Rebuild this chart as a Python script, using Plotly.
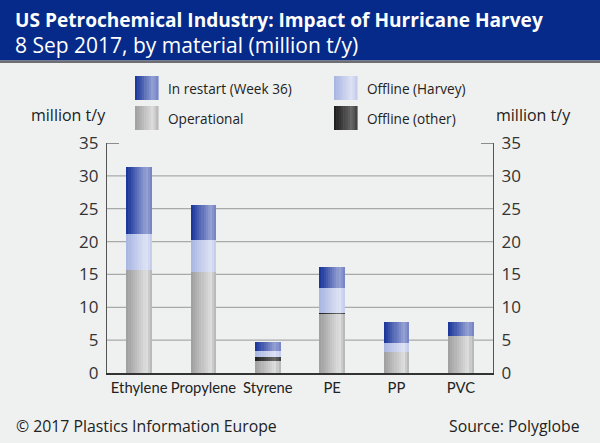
import plotly.graph_objects as go

# ---------------- data ----------------
categories = ["Ethylene", "Propylene", "Styrene", "PE", "PP", "PVC"]
operational = [15.6, 15.4, 1.8, 9.0, 3.2, 5.7]
offline_other = [0.0, 0.0, 0.6, 0.1, 0.0, 0.0]
offline_harvey = [5.5, 4.8, 0.9, 3.8, 1.4, 0.0]
in_restart = [10.2, 5.3, 1.4, 3.3, 3.2, 2.1]
y_ticks = [0, 5, 10, 15, 20, 25, 30, 35]
grid_vals = [5, 10, 15, 20, 25, 30]

FONT = "Open Sans"
XFONT = "Lato"
BG = "#eff1f0"

# gradient stops (left, highlight, right) per series
styles = {
    "Operational": ((158, 158, 158), (222, 222, 222), (178, 178, 178)),
    "Offline (other)": ((28, 28, 28), (105, 105, 105), (58, 58, 58)),
    "Offline (Harvey)": ((168, 180, 226), (222, 227, 244), (192, 200, 235)),
    "In restart (Week 36)": ((22, 50, 152), (150, 162, 212), (112, 128, 196)),
}
series = [
    ("Operational", operational),
    ("Offline (other)", offline_other),
    ("Offline (Harvey)", offline_harvey),
    ("In restart (Week 36)", in_restart),
]


def grad(stops, t, peak=0.78):
    a, b, c = stops
    if t <= peak:
        f = t / peak
        col = [a[i] + (b[i] - a[i]) * f for i in range(3)]
    else:
        f = (t - peak) / (1 - peak)
        col = [b[i] + (c[i] - b[i]) * f for i in range(3)]
    return "rgb(%d,%d,%d)" % tuple(int(round(v)) for v in col)


K = 12
BAR_W = 0.40
fig = go.Figure()

base = [0.0] * len(categories)
for name, vals in series:
    for k in range(K):
        t = (k + 0.5) / K
        last = (k == K - 1)
        fig.add_trace(go.Bar(
            x=categories, y=vals, base=base[:],
            width=[BAR_W / K + (0 if last else 0.012)] * len(categories),
            offset=[-BAR_W / 2 + k * BAR_W / K] * len(categories),
            marker=dict(color=grad(styles[name], t), line=dict(width=0)),
            showlegend=False, hoverinfo="skip", name=name,
        ))
    base = [b + v for b, v in zip(base, vals)]

# invisible trace for the right axis
fig.add_trace(go.Scatter(x=categories, y=base, yaxis="y2", mode="markers",
                         marker=dict(opacity=0), showlegend=False, hoverinfo="skip"))

# ---------------- layout helpers ----------------
L, R, T, B = 107, 107, 143, 70
PW, PH = 600 - L - R, 443 - T - B


def px(xp):
    return (xp - L) / PW


def py(yp):
    return (443 - B - yp) / PH


shapes = []
annotations = []

# title bar
shapes.append(dict(type="rect", xref="paper", yref="paper", x0=px(-5), x1=px(605),
                   y0=py(60.5), y1=py(-5), fillcolor="#062a8a", line=dict(width=0), layer="above"))
shapes.append(dict(type="rect", xref="paper", yref="paper", x0=px(-5), x1=px(605),
                   y0=py(63), y1=py(60.5), fillcolor="#6f6f72", line=dict(width=0), layer="above"))
annotations.append(dict(text="<b>US Petrochemical Industry: Impact of Hurricane Harvey</b>",
                        xref="paper", yref="paper", x=px(13), y=py(20), xanchor="left", yanchor="middle",
                        showarrow=False, font=dict(family=FONT, size=19.1, color="white")))
annotations.append(dict(text="8 Sep 2017, by material (million t/y)",
                        xref="paper", yref="paper", x=px(13), y=py(45), xanchor="left", yanchor="middle",
                        showarrow=False, font=dict(family=FONT, size=21, color="white")))

# gridlines
for g in grid_vals:
    shapes.append(dict(type="line", xref="paper", yref="y", x0=0, x1=1, y0=g, y1=g,
                       line=dict(color="#a9a9a9", width=1.3), layer="below"))
for x0, x1 in ((0, 12 / PW), (1 - 12 / PW, 1)):
    shapes.append(dict(type="line", xref="paper", yref="y", x0=x0, x1=x1, y0=35, y1=35,
                       line=dict(color="#555555", width=1.3), layer="above"))

# legend (manual, two columns)
legend_items = [
    ("In restart (Week 36)", 135, 76, 166),
    ("Offline (Harvey)", 334, 76, 365),
    ("Operational", 135, 106, 166),
    ("Offline (other)", 334, 106, 365),
]
SW = 23
for name, sx, sy, tx in legend_items:
    n = 10
    for k in range(n):
        t = (k + 0.5) / n
        shapes.append(dict(type="rect", xref="paper", yref="paper",
                           x0=px(sx + k * SW / n), x1=px(sx + (k + 1) * SW / n + 0.6),
                           y0=py(sy + 24), y1=py(sy), fillcolor=grad(styles[name], t),
                           line=dict(width=0), layer="above"))
    annotations.append(dict(text=name, xref="paper", yref="paper", x=px(tx), y=py(sy + 12),
                            xanchor="left", yanchor="middle", showarrow=False,
                            font=dict(family=FONT, size=13.6, color="#222222")))

# axis unit labels
annotations.append(dict(text="million t/y", xref="paper", yref="paper", x=px(108), y=py(115),
                        xanchor="right", yanchor="middle", showarrow=False,
                        font=dict(family=FONT, size=16, color="#222222")))
annotations.append(dict(text="million t/y", xref="paper", yref="paper", x=px(494), y=py(115),
                        xanchor="left", yanchor="middle", showarrow=False,
                        font=dict(family=FONT, size=16, color="#222222")))

# footer
annotations.append(dict(text="© 2017 Plastics Information Europe", xref="paper", yref="paper",
                        x=px(13.5), y=py(426), xanchor="left", yanchor="middle", showarrow=False,
                        font=dict(family=FONT, size=15.8, color="#222222")))
annotations.append(dict(text="Source: Polyglobe", xref="paper", yref="paper",
                        x=px(582), y=py(426), xanchor="right", yanchor="middle", showarrow=False,
                        font=dict(family=FONT, size=15.8, color="#222222")))

axis_common = dict(range=[0, 35], tickvals=y_ticks, showgrid=False, zeroline=False,
                   showline=True, linecolor="#555555", linewidth=1.3, ticks="",
                   automargin=False, ticklabelstandoff=4,
                   tickfont=dict(family=FONT, size=17, color="#333333"), fixedrange=True)

fig.update_layout(
    width=600, height=443,
    margin=dict(l=L, r=R, t=T, b=B, pad=0),
    paper_bgcolor=BG, plot_bgcolor=BG,
    barmode="overlay", bargap=0,
    showlegend=False,
    xaxis=dict(type="category", categoryorder="array", categoryarray=categories,
               range=[-0.5, 5.5], showgrid=False, zeroline=False, automargin=False,
               showline=True, linecolor="#333333", linewidth=1.5, ticks="", tickangle=0,
               fixedrange=True,
               tickfont=dict(family=XFONT, size=14.8, color="#222222")),
    yaxis=dict(side="left", **axis_common),
    yaxis2=dict(side="right", overlaying="y", **axis_common),
    shapes=shapes, annotations=annotations,
)

fig.write_html(
    "out.html",
    config={"displayModeBar": False},
    post_script="document.body.style.margin='0';document.body.style.overflow='hidden';",
)
